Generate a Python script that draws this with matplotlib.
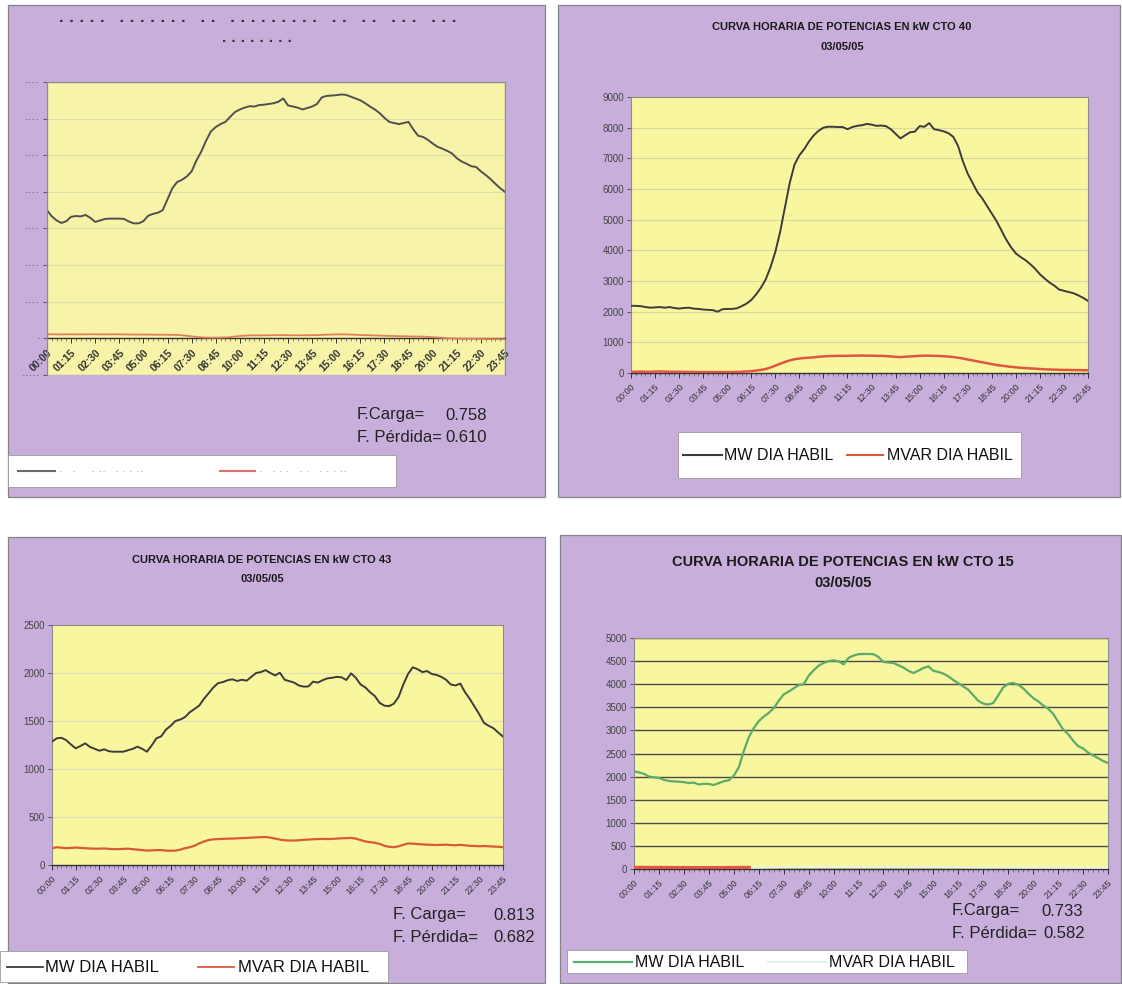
import matplotlib
matplotlib.use("Agg")
import matplotlib.pyplot as plt
from matplotlib.patches import Rectangle
from matplotlib.lines import Line2D
from matplotlib.ticker import FixedLocator, MultipleLocator

plt.rcParams["font.family"] = ["Liberation Sans", "DejaVu Sans"]

W, H = 1122, 984

# ---------------------------------------------------------------- data
steps = list(range(96))  # 15-minute intervals of the day
tick_labels = ["00:00", "01:15", "02:30", "03:45", "05:00", "06:15", "07:30",
               "08:45", "10:00", "11:15", "12:30", "13:45", "15:00", "16:15",
               "17:30", "18:45", "20:00", "21:15", "22:30", "23:45"]

mw_a = [3500, 3330, 3220, 3150, 3200, 3320, 3340, 3330, 3370, 3290,
        3180, 3220, 3260, 3270, 3270, 3270, 3260, 3190, 3140, 3140,
        3200, 3350, 3400, 3430, 3500, 3800, 4100, 4270, 4330, 4420,
        4560, 4860, 5100, 5400, 5650, 5770, 5850, 5910, 6050, 6180,
        6250, 6300, 6340, 6330, 6370, 6380, 6400, 6420, 6460, 6550,
        6360, 6330, 6300, 6250, 6290, 6330, 6400, 6580, 6620, 6630,
        6640, 6660, 6650, 6600, 6550, 6500, 6420, 6330, 6250, 6150,
        6020, 5910, 5880, 5850, 5880, 5910, 5700, 5530, 5500, 5420,
        5320, 5230, 5180, 5120, 5050, 4920, 4830, 4770, 4700, 4680,
        4560, 4460, 4350, 4220, 4100, 4000]
mvar_a = [110, 112, 110, 108, 110, 112, 110, 108, 110, 112,
          112, 110, 108, 110, 112, 110, 108, 106, 105, 105,
          104, 104, 102, 100, 100, 98, 96, 94, 85, 70,
          55, 40, 28, 22, 20, 20, 22, 25, 35, 50,
          65, 75, 80, 82, 82, 84, 85, 86, 88, 88,
          86, 85, 84, 85, 86, 88, 90, 95, 100, 105,
          108, 110, 108, 105, 98, 92, 88, 84, 80, 76,
          72, 68, 64, 60, 58, 55, 52, 50, 48, 40,
          32, 25, 15, 5, 0, -5, -10, -10, -12, -15,
          -15, -18, -20, -20, -22, -22]

mw_cto40 = [2190, 2190, 2180, 2150, 2130, 2140, 2150, 2130, 2150, 2120,
            2100, 2120, 2130, 2100, 2090, 2070, 2060, 2050, 2000, 2080,
            2090, 2090, 2110, 2180, 2260, 2380, 2560, 2780, 3050, 3450,
            3950, 4600, 5400, 6200, 6800, 7100, 7300, 7550, 7750, 7900,
            8000, 8030, 8030, 8020, 8020, 7950, 8020, 8060, 8080, 8120,
            8100, 8060, 8070, 8050, 7950, 7800, 7650, 7750, 7850, 7870,
            8050, 8030, 8150, 7950, 7920, 7880, 7820, 7700, 7400, 6900,
            6500, 6200, 5900, 5700, 5450, 5200, 4950, 4650, 4350, 4100,
            3900, 3780, 3680, 3550, 3400, 3220, 3080, 2950, 2850, 2720,
            2680, 2640, 2600, 2530, 2450, 2350]
mvar_cto40 = [40, 40, 45, 40, 40, 45, 50, 45, 40, 40,
              40, 35, 35, 35, 30, 30, 30, 30, 30, 30,
              30, 30, 35, 40, 50, 60, 80, 100, 130, 180,
              240, 300, 360, 410, 450, 470, 490, 500, 510, 530,
              540, 550, 555, 560, 560, 560, 565, 565, 570, 565,
              565, 560, 560, 550, 540, 525, 520, 530, 540, 550,
              560, 565, 565, 560, 555, 545, 535, 520, 500, 470,
              440, 410, 380, 350, 320, 290, 260, 240, 220, 200,
              185, 170, 160, 150, 140, 130, 120, 115, 110, 105,
              100, 100, 95, 95, 90, 90]

mw_cto43 = [1285, 1320, 1325, 1300, 1255, 1215, 1240, 1267, 1230, 1210,
            1190, 1205, 1185, 1180, 1180, 1180, 1195, 1210, 1233, 1210,
            1180, 1245, 1320, 1340, 1410, 1450, 1500, 1515, 1540, 1590,
            1625, 1660, 1730, 1790, 1850, 1895, 1905, 1925, 1934, 1917,
            1930, 1920, 1960, 2000, 2010, 2030, 2000, 1975, 2003, 1930,
            1915, 1900, 1870, 1858, 1860, 1910, 1900, 1925, 1944, 1950,
            1960, 1955, 1927, 1997, 1950, 1880, 1850, 1800, 1760, 1690,
            1660, 1655, 1680, 1750, 1880, 1990, 2060, 2040, 2010, 2020,
            1990, 1980, 1960, 1930, 1880, 1870, 1890, 1800, 1730, 1650,
            1570, 1480, 1450, 1424, 1380, 1337]
mvar_cto43 = [175, 185, 180, 175, 178, 182, 178, 175, 172, 170,
              170, 172, 168, 165, 165, 168, 170, 165, 160, 155,
              150, 152, 155, 155, 150, 148, 150, 160, 175, 185,
              200, 225, 245, 260, 268, 270, 272, 275, 275, 278,
              280, 282, 285, 288, 290, 292, 285, 275, 265, 258,
              255, 255, 258, 262, 265, 268, 270, 272, 270, 272,
              275, 278, 280, 282, 275, 260, 245, 238, 232, 220,
              200, 190, 185, 195, 210, 225, 222, 218, 215, 212,
              210, 208, 210, 212, 208, 205, 210, 205, 200, 198,
              195, 198, 195, 192, 190, 185]

mw_cto15 = [2114, 2090, 2060, 2000, 1985, 1970, 1930, 1905, 1895, 1890,
            1880, 1861, 1870, 1830, 1845, 1840, 1818, 1860, 1900, 1920,
            2020, 2200, 2550, 2850, 3050, 3200, 3300, 3377, 3480, 3640,
            3780, 3840, 3910, 3980, 4000, 4180, 4300, 4400, 4460, 4500,
            4517, 4495, 4430, 4570, 4620, 4650, 4654, 4654, 4650, 4590,
            4480, 4470, 4459, 4410, 4360, 4290, 4242, 4293, 4350, 4387,
            4290, 4265, 4230, 4170, 4090, 4020, 3950, 3880, 3760, 3640,
            3580, 3560, 3593, 3760, 3930, 4010, 4026, 3990, 3910, 3800,
            3700, 3630, 3540, 3470, 3360, 3190, 3020, 2920, 2780, 2660,
            2610, 2520, 2460, 2400, 2340, 2294]
mvar_cto15 = [25, 25, 24, 24, 23, 23, 22, 22, 22, 21,
              21, 21, 20, 20, 20, 20, 20, 21, 21, 22,
              22, 23, 24, 25, 28, 30, 32, 34, 36, 38,
              40, 42, 42, 44, 44, 45, 45, 46, 46, 46,
              45, 45, 44, 44, 44, 43, 43, 42, 42, 42,
              43, 43, 44, 44, 44, 43, 42, 41, 40, 40,
              39, 38, 38, 37, 36, 36, 35, 34, 34, 33,
              33, 32, 32, 31, 31, 30, 30, 30, 29, 29,
              28, 28, 28, 27, 27, 27, 26, 26, 26, 25,
              25, 25, 24, 24, 24, 24]

title_fmt = "CURVA HORARIA DE POTENCIAS EN kW CTO {}"
date_label = "03/05/05"
legend_labels = ["MW DIA HABIL", "MVAR DIA HABIL"]
# faded print of the first sheet: only dot traces of its text survive
faded_title = "· · · · ·   · · · · · · ·   · ·   · · · · · · · · ·   · ·   · ·   · · ·   · · ·"
faded_date = "· · · · · · · ·"
faded_legend = ["·   ·     · ··   · · · ··", "·   · · ·   · ·   · · · ··"]

PURPLE = "#c7aedb"
YELLOW = "#f9f6a0"
DARK = "#3c3c3c"
RED = "#e0563f"
GREEN = "#5bab6c"
PALE = "#e4f3f1"

fig = plt.figure(figsize=(W / 100, H / 100), dpi=100)


def fxp(x):
    return x / W


def fyp(y):
    return 1 - y / H


def rect_px(x0, y0, x1, y1):
    return [x0 / W, 1 - y1 / H, (x1 - x0) / W, (y1 - y0) / H]


def sheet(x0, y0, x1, y1):
    fig.add_artist(Rectangle((fxp(x0), fyp(y1)), (x1 - x0) / W, (y1 - y0) / H,
                             transform=fig.transFigure, facecolor=PURPLE,
                             edgecolor="#858585", lw=0.9, zorder=0))


def text_px(x, y, s, **kw):
    kw.setdefault("va", "center")
    fig.text(fxp(x), fyp(y), s, **kw)


def legend_px(x0, y0, x1, y1, entries, fs, tcolor="#111111"):
    fig.add_artist(Rectangle((fxp(x0), fyp(y1)), (x1 - x0) / W, (y1 - y0) / H,
                             transform=fig.transFigure, facecolor="white",
                             edgecolor="#9a9a9a", lw=0.6, zorder=1))
    yc = (y0 + y1) / 2
    for lx0, lx1, tx, color, lw, label in entries:
        fig.add_artist(Line2D([fxp(lx0), fxp(lx1)], [fyp(yc), fyp(yc)],
                              transform=fig.transFigure, color=color, lw=lw,
                              zorder=2))
        text_px(tx, yc + 1, label, fontsize=fs, ha="left", color=tcolor,
                zorder=3)


def chart(rect, ylim, yticks, grid_color, grid_lw, label_kw, ylabel_fs=7,
          axis_at_zero=False):
    ax = fig.add_axes(rect_px(*rect))
    ax.set_facecolor(YELLOW)
    if axis_at_zero:
        ax.spines["bottom"].set_position(("data", 0))
    ax.set_xlim(0, 95)
    ax.set_ylim(*ylim)
    ax.set_yticks(yticks)
    ax.tick_params(axis="y", labelsize=ylabel_fs, length=3, width=0.6,
                   colors="#444444", pad=2)
    ax.xaxis.set_major_locator(FixedLocator(range(0, 96, 5)))
    ax.xaxis.set_minor_locator(MultipleLocator(1))
    ax.set_xticklabels(tick_labels, rotation=45, ha="right",
                       rotation_mode="anchor", **label_kw)
    ax.tick_params(axis="x", which="major", length=3.5, width=0.7,
                   colors="#333333", pad=3)
    ax.tick_params(axis="x", which="minor", length=2, width=0.5,
                   colors="#555555")
    ax.grid(axis="y", color=grid_color, lw=grid_lw)
    ax.set_axisbelow(True)
    for side in ("top", "right", "left"):
        ax.spines[side].set_color("#8c8c8c")
        ax.spines[side].set_linewidth(0.8)
    ax.spines["bottom"].set_color("#333333")
    ax.spines["bottom"].set_linewidth(1.0)
    return ax


# ------------------------------------------------ top left (faded sheet)
sheet(8, 5, 545, 497)
ax = chart((47, 82, 505, 375), (-1000, 7000), list(range(-1000, 7001, 1000)),
           "#dedbb0", 0.8,
           dict(fontsize=7.5, fontweight="heavy", color="#151515"),
           axis_at_zero=True)
ax.set_facecolor("#f7f4aa")
ax.add_patch(Rectangle((0, 0), 1, 1, transform=ax.transAxes, fill=False,
                       edgecolor="#8c8c8c", lw=0.9, zorder=5))
ax.set_yticklabels(["·" * len(str(v)) for v in range(-1000, 7001, 1000)],
                   fontsize=8)
ax.plot(steps, mvar_a, color="#e0805a", lw=1.3, zorder=3)
ax.plot(steps, mw_a, color="#505050", lw=1.4, zorder=4)
text_px(258, 22, faded_title, fontsize=12, ha="center", color="#333333",
        fontweight="bold")
text_px(257, 42, faded_date, fontsize=11, ha="center", color="#333333",
        fontweight="bold")
text_px(357, 415, "F.Carga=", fontsize=12, ha="left", color="#222222")
text_px(487, 415, "0.758", fontsize=12, ha="right", color="#222222")
text_px(357, 437, "F. Pérdida=", fontsize=12, ha="left", color="#222222")
text_px(487, 437, "0.610", fontsize=12, ha="right", color="#222222")
legend_px(8, 455, 396, 487,
          [(18, 55, 59, "#6a6a6a", 1.5, faded_legend[0]),
           (220, 255, 259, "#e07070", 1.5, faded_legend[1])],
          fs=8, tcolor="#8a8a8a")

# ------------------------------------------------ top right, CTO 40
sheet(558, 5, 1120, 497)
ax = chart((631, 97, 1088, 373), (0, 9000), list(range(0, 9001, 1000)),
           "#d9d6a6", 0.8, dict(fontsize=6.5, color="#333333"))
ax.plot(steps, mvar_cto40, color=RED, lw=1.8, zorder=3)
ax.plot(steps, mw_cto40, color=DARK, lw=1.4, zorder=4)
text_px(842, 27, title_fmt.format(40), fontsize=8, ha="center",
        fontweight="bold", color="#1a1a1a")
text_px(842, 47, date_label, fontsize=8, ha="center", fontweight="bold",
        color="#1a1a1a")
legend_px(678, 432, 1021, 478,
          [(683, 722, 724, DARK, 1.5, legend_labels[0]),
           (847, 883, 887, RED, 1.5, legend_labels[1])],
          fs=11.5)

# ------------------------------------------------ bottom left, CTO 43
sheet(8, 537, 545, 983)
ax = chart((52, 625, 503, 865), (0, 2500), list(range(0, 2501, 500)),
           "#e3e0b4", 0.8, dict(fontsize=6.5, color="#333333"))
ax.plot(steps, mvar_cto43, color="#d95a35", lw=1.6, zorder=3)
ax.plot(steps, mw_cto43, color=DARK, lw=1.4, zorder=4)
text_px(262, 560, title_fmt.format(43), fontsize=8, ha="center",
        fontweight="bold", color="#1a1a1a")
text_px(262, 579, date_label, fontsize=8, ha="center", fontweight="bold",
        color="#1a1a1a")
text_px(393, 915, "F. Carga=", fontsize=12, ha="left", color="#222222")
text_px(535, 915, "0.813", fontsize=12, ha="right", color="#222222")
text_px(393, 937, "F. Pérdida=", fontsize=12, ha="left", color="#222222")
text_px(535, 937, "0.682", fontsize=12, ha="right", color="#222222")
legend_px(0, 951, 388, 982,
          [(7, 43, 45, DARK, 1.3, legend_labels[0]),
           (198, 234, 238, RED, 1.3, legend_labels[1])],
          fs=12)

# ------------------------------------------------ bottom right, CTO 15
sheet(560, 535, 1121, 983)
ax = chart((634, 638, 1108, 869), (0, 5000), list(range(0, 5001, 500)),
           "#4a4a4a", 1.0, dict(fontsize=6.5, color="#333333"))
ax.plot(steps, mvar_cto15, color=PALE, lw=1.2, zorder=3)
ax.plot(steps[:24], mvar_cto15[:24], color=RED, lw=3, zorder=3)
ax.plot(steps, mw_cto15, color=GREEN, lw=1.6, zorder=4)
text_px(843, 562, title_fmt.format(15), fontsize=10.5, ha="center",
        fontweight="bold", color="#1a1a1a")
text_px(843, 583, date_label, fontsize=10.5, ha="center", fontweight="bold",
        color="#1a1a1a")
text_px(952, 911, "F.Carga=", fontsize=12, ha="left", color="#222222")
text_px(1083, 911, "0.733", fontsize=12, ha="right", color="#222222")
text_px(952, 933, "F. Pérdida=", fontsize=12, ha="left", color="#222222")
text_px(1085, 933, "0.582", fontsize=12, ha="right", color="#222222")
legend_px(567, 950, 967, 973,
          [(574, 632, 635, GREEN, 1.6, legend_labels[0]),
           (768, 827, 829, PALE, 1.6, legend_labels[1])],
          fs=11.5)

fig.savefig("out.png", dpi=100, facecolor="white")
